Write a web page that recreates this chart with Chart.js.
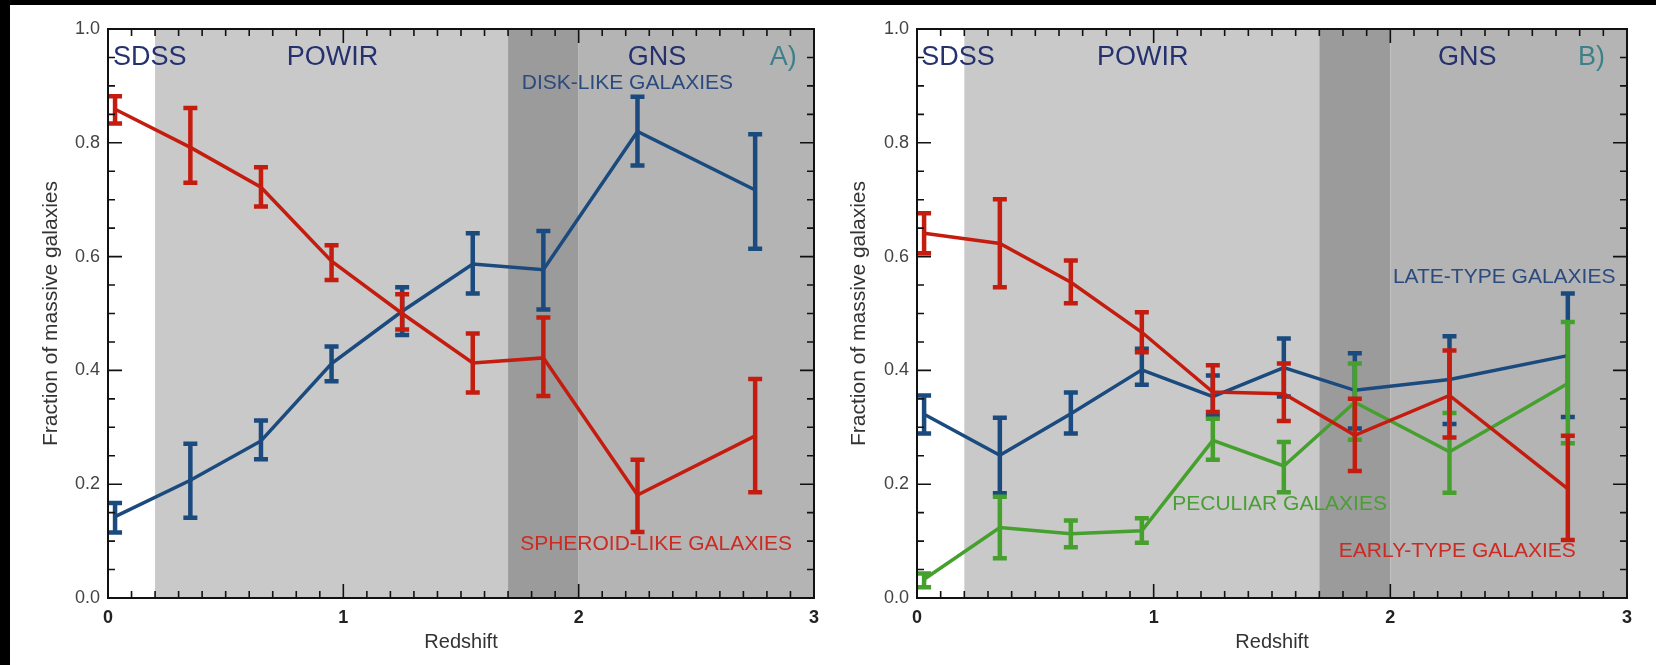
<!DOCTYPE html>
<html>
<head>
<meta charset="utf-8">
<script src="https://cdn.jsdelivr.net/npm/chart.js@4.4.0/dist/chart.umd.min.js"></script>
<style>
  html, body { margin: 0; padding: 0; background: #fff; }
  body { width: 1656px; height: 665px; position: relative; overflow: hidden; }
  #edgeTop { position: absolute; left: 0; top: 0; width: 1656px; height: 5px; background: #000; }
  #edgeLeft { position: absolute; left: 0; top: 0; width: 10px; height: 665px; background: #000; }
  #chartA { position: absolute; left: 10px; top: 5px; }
  #chartB { position: absolute; left: 828px; top: 5px; }
</style>
</head>
<body>
<div id="edgeTop"></div>
<div id="edgeLeft"></div>
<canvas id="chartA" width="818" height="660"></canvas>
<canvas id="chartB" width="828" height="660"></canvas>
<script>
// redshift bins (same for both panels)
var redshift = [0.03, 0.35, 0.65, 0.95, 1.25, 1.55, 1.85, 2.25, 2.75];

// panel A : disk-like / spheroid-like
var diskFrac = [0.143, 0.207, 0.276, 0.412, 0.504, 0.587, 0.577, 0.820, 0.717];
var diskLow  = [0.115, 0.141, 0.244, 0.381, 0.462, 0.535, 0.507, 0.760, 0.614];
var diskHigh = [0.167, 0.271, 0.312, 0.442, 0.546, 0.641, 0.645, 0.881, 0.815];

var sphFrac = [0.859, 0.792, 0.722, 0.592, 0.500, 0.413, 0.422, 0.181, 0.285];
var sphLow  = [0.834, 0.730, 0.688, 0.559, 0.472, 0.361, 0.355, 0.116, 0.186];
var sphHigh = [0.882, 0.861, 0.757, 0.620, 0.534, 0.465, 0.493, 0.243, 0.385];

// panel B : late-type / early-type / peculiar
var lateFrac = [0.323, 0.251, 0.324, 0.401, 0.354, 0.405, 0.365, 0.384, 0.426];
var lateLow  = [0.289, 0.184, 0.289, 0.375, 0.320, 0.354, 0.298, 0.306, 0.318];
var lateHigh = [0.356, 0.317, 0.361, 0.438, 0.391, 0.456, 0.430, 0.460, 0.535];

var earlyFrac = [0.641, 0.623, 0.555, 0.467, 0.362, 0.359, 0.286, 0.356, 0.192];
var earlyLow  = [0.606, 0.546, 0.518, 0.432, 0.327, 0.311, 0.223, 0.282, 0.102];
var earlyHigh = [0.676, 0.701, 0.593, 0.502, 0.409, 0.412, 0.350, 0.435, 0.285];

var pecFrac = [0.033, 0.124, 0.113, 0.118, 0.277, 0.232, 0.344, 0.257, 0.377];
var pecLow  = [0.019, 0.070, 0.089, 0.097, 0.243, 0.186, 0.278, 0.185, 0.272];
var pecHigh = [0.043, 0.178, 0.136, 0.140, 0.315, 0.274, 0.412, 0.325, 0.485];

// survey ranges (POWIR, overlap, GNS)
var surveyStart = [0.2, 1.7, 2.0];
var surveyEnd   = [1.7, 2.0, 3.0];

// tick labels
var xTickVals = [0, 1, 2, 3];
var yTickVals = [0.0, 0.2, 0.4, 0.6, 0.8, 1.0];

var BLUE = '#1a4a7e', RED = '#c41d10', GREEN = '#45a02e';
var FONT = '"Liberation Sans", Arial, Helvetica, sans-serif';
Chart.defaults.font.family = FONT;

function pts(vals) {
	return redshift.map(function(z, i) { return { x: z, y: vals[i] }; });
}

function series(vals, lo, hi, color) {
	return {
		data: pts(vals),
		errLow: lo,
		errHigh: hi,
		borderColor: color,
		backgroundColor: color,
		borderWidth: 3.5,
		pointRadius: 0,
		tension: 0,
		fill: false
	};
}

var panelPlugin = {
	id: 'panel',
	beforeDatasetsDraw: function(chart) {
		var ctx = chart.ctx, a = chart.chartArea, xs = chart.scales.x;
		var shades = ['#c9c9c9', '#9b9b9b', '#b4b4b4'];
		ctx.save();
		for (var i = 0; i < surveyStart.length; i++) {
			var x0 = xs.getPixelForValue(surveyStart[i]);
			var x1 = xs.getPixelForValue(surveyEnd[i]);
			ctx.fillStyle = shades[i];
			ctx.fillRect(x0, a.top, x1 - x0, a.bottom - a.top);
		}
		ctx.restore();
	},
	afterDatasetDraw: function(chart, args) {
		var ds = chart.data.datasets[args.index];
		var ctx = chart.ctx, xs = chart.scales.x, ys = chart.scales.y;
		ctx.save();
		ctx.strokeStyle = ds.borderColor;
		ctx.lineWidth = 4.5;
		ctx.lineCap = 'butt';
		for (var i = 0; i < redshift.length; i++) {
			var px = xs.getPixelForValue(redshift[i]);
			var y0 = ys.getPixelForValue(ds.errLow[i]);
			var y1 = ys.getPixelForValue(ds.errHigh[i]);
			ctx.beginPath();
			ctx.moveTo(px, y0); ctx.lineTo(px, y1);
			ctx.moveTo(px - 7, y0); ctx.lineTo(px + 7, y0);
			ctx.moveTo(px - 7, y1); ctx.lineTo(px + 7, y1);
			ctx.stroke();
		}
		ctx.restore();
	},
	afterDraw: function(chart, args, opts) {
		var ctx = chart.ctx, a = chart.chartArea, xs = chart.scales.x, ys = chart.scales.y;
		var k, p, len;
		ctx.save();
		ctx.strokeStyle = '#111';
		ctx.lineWidth = 1.6;
		ctx.beginPath();
		// minor/major ticks on all four sides, pointing inward
		for (k = 0; k <= 30; k++) {
			p = xs.getPixelForValue(k / 10);
			len = (k % 10 === 0) ? 14 : 7;
			ctx.moveTo(p, a.bottom); ctx.lineTo(p, a.bottom - len);
			ctx.moveTo(p, a.top); ctx.lineTo(p, a.top + len);
		}
		for (k = 0; k <= 20; k++) {
			p = ys.getPixelForValue(k / 20);
			len = (k % 4 === 0) ? 14 : 7;
			ctx.moveTo(a.left, p); ctx.lineTo(a.left + len, p);
			ctx.moveTo(a.right, p); ctx.lineTo(a.right - len, p);
		}
		ctx.stroke();
		ctx.lineWidth = 2;
		ctx.strokeRect(a.left, a.top, a.right - a.left, a.bottom - a.top);

		ctx.textAlign = 'center';
		ctx.textBaseline = 'middle';
		(opts.labels || []).forEach(function(l) {
			ctx.font = l.size + 'px ' + FONT;
			ctx.fillStyle = l.color;
			ctx.fillText(l.text, xs.getPixelForValue(l.x), ys.getPixelForValue(l.y));
		});
		ctx.restore();
	}
};

function makeOptions(yWidth, yTitlePad, rightPad, labels) {
	return {
		responsive: false,
		animation: false,
		devicePixelRatio: 1,
		layout: { padding: { left: 0, top: 24, right: rightPad, bottom: 0 } },
		plugins: {
			legend: { display: false },
			tooltip: { enabled: false },
			panel: { labels: labels }
		},
		scales: {
			x: {
				type: 'linear',
				min: 0,
				max: 3,
				afterBuildTicks: function(s) { s.ticks = xTickVals.map(function(v) { return { value: v }; }); },
				afterFit: function(s) { s.height = 67; },
				grid: { display: false, drawTicks: false },
				border: { display: false },
				ticks: {
					padding: 9,
					color: '#222',
					font: { size: 18, weight: 'bold' },
					callback: function(v) { return String(v); }
				},
				title: {
					display: true,
					text: 'Redshift',
					color: '#333',
					font: { size: 20 },
					padding: { top: 0, bottom: 11 }
				}
			},
			y: {
				min: 0,
				max: 1,
				afterBuildTicks: function(s) { s.ticks = yTickVals.map(function(v) { return { value: v }; }); },
				afterFit: function(s) { s.width = yWidth; },
				grid: { display: false, drawTicks: false },
				border: { display: false },
				ticks: {
					padding: 8,
					color: '#444',
					font: { size: 18 },
					callback: function(v) { return v.toFixed(1); }
				},
				title: {
					display: true,
					text: 'Fraction of massive galaxies',
					color: '#333',
					font: { size: 21 },
					padding: { top: yTitlePad, bottom: 0 }
				}
			}
		}
	};
}

var NAVY = '#25316f', TEAL = '#3d8088';
var topRow = 0.949;

var chartA = new Chart(document.getElementById('chartA'), {
	type: 'line',
	data: { datasets: [
		series(sphFrac, sphLow, sphHigh, RED),
		series(diskFrac, diskLow, diskHigh, BLUE)
	] },
	options: makeOptions(98, 29, 7, [
		{ text: 'SDSS', x: 0.177, y: topRow, color: NAVY, size: 27 },
		{ text: 'POWIR', x: 0.954, y: topRow, color: NAVY, size: 27 },
		{ text: 'GNS', x: 2.333, y: topRow, color: NAVY, size: 27 },
		{ text: 'A)', x: 2.869, y: topRow, color: TEAL, size: 27 },
		{ text: 'DISK-LIKE GALAXIES', x: 2.207, y: 0.905, color: '#2b4a7e', size: 21 },
		{ text: 'SPHEROID-LIKE GALAXIES', x: 2.329, y: 0.095, color: '#cc2a22', size: 21 }
	]),
	plugins: [panelPlugin]
});

var chartB = new Chart(document.getElementById('chartB'), {
	type: 'line',
	data: { datasets: [
		series(earlyFrac, earlyLow, earlyHigh, RED),
		series(pecFrac, pecLow, pecHigh, GREEN),
		series(lateFrac, lateLow, lateHigh, BLUE)
	] },
	options: makeOptions(89, 19, 29, [
		{ text: 'SDSS', x: 0.173, y: topRow, color: NAVY, size: 27 },
		{ text: 'POWIR', x: 0.954, y: topRow, color: NAVY, size: 27 },
		{ text: 'GNS', x: 2.325, y: topRow, color: NAVY, size: 27 },
		{ text: 'B)', x: 2.85, y: topRow, color: TEAL, size: 27 },
		{ text: 'LATE-TYPE GALAXIES', x: 2.481, y: 0.563, color: '#2b4a7e', size: 21 },
		{ text: 'PECULIAR GALAXIES', x: 1.532, y: 0.165, color: '#4a9e35', size: 21 },
		{ text: 'EARLY-TYPE GALAXIES', x: 2.283, y: 0.082, color: '#cc2a22', size: 21 }
	]),
	plugins: [panelPlugin]
});
</script>
</body>
</html>
